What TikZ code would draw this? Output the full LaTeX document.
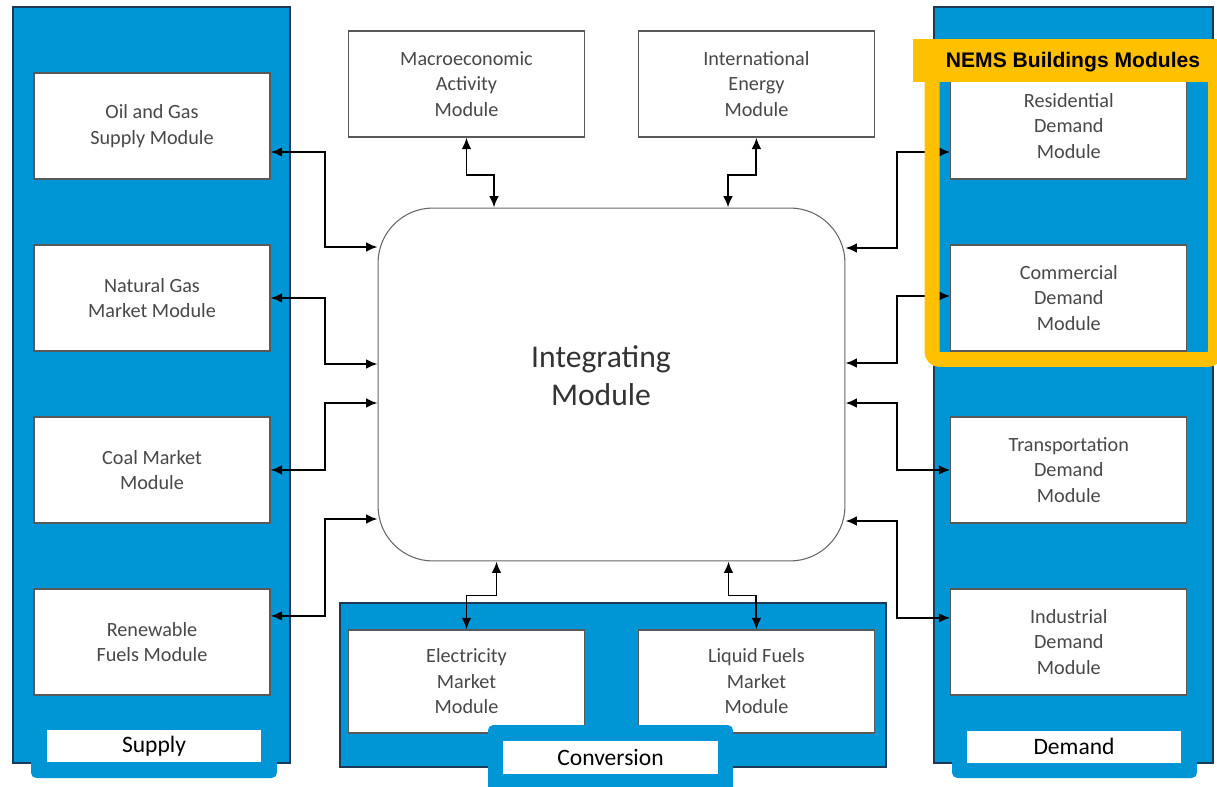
\documentclass[tikz,border=0pt]{standalone}
\usepackage{fontspec}
\setmainfont{Carlito}
\newfontfamily\nemsfont{Liberation Sans}
\usetikzlibrary{positioning,calc,arrows.meta}
\definecolor{panelblue}{RGB}{0,150,214}
\definecolor{paneledge}{RGB}{28,58,87}
\definecolor{nemsyellow}{RGB}{255,192,0}
\definecolor{boxtext}{RGB}{72,72,72}

\begin{document}
\begin{tikzpicture}[x=0.02cm,y=-0.02cm,on grid,
	module/.style={draw=black!65,line width=0.7pt,fill=white,minimum width=4.72cm,minimum height=2.12cm,inner sep=0pt,align=center,text=boxtext,font=\fontsize{11.5}{14.5}\selectfont},
	integ/.style={draw=black!60,line width=0.6pt,fill=white,rounded corners=1.1cm,minimum width=9.34cm,minimum height=7.06cm},
	panel/.style={fill=panelblue,draw=paneledge,line width=1.5pt},
	tab/.style={fill=panelblue,rounded corners=3pt},
	tag/.style={fill=white,inner sep=0pt,minimum width=4.28cm,minimum height=0.64cm,font=\fontsize{13.4}{16}\selectfont},
	link/.style={<->,>={Latex[length=6.5pt,width=5.5pt]},line width=1.1pt}]
	\useasboundingbox (0,0) rectangle (1217,787);
	\draw[panel] (13,7) rectangle (290,763);
	\draw[panel] (934,7) rectangle (1213,763);
	\draw[panel] (340,603) rectangle (886,767);

	\node[module] (oil) at (152,126) {Oil and Gas\\Supply Module};
	\node[module] (gas) [below=3.44cm of oil] {Natural Gas\\Market Module};
	\node[module] (coal) [below=3.44cm of gas] {Coal Market\\Module};
	\node[module] (ren) [below=3.44cm of coal] {Renewable\\Fuels Module};
	\node[module] (res) [right=18.34cm of oil] {Residential\\Demand\\Module};
	\node[module] (com) [below=3.44cm of res] {Commercial\\Demand\\Module};
	\node[module] (trans) [below=3.44cm of com] {Transportation\\Demand\\Module};
	\node[module] (ind) [below=3.44cm of trans] {Industrial\\Demand\\Module};
	\node[module] (macro) at (466.5,84) {Macroeconomic\\Activity\\Module};
	\node[module] (intl) [right=5.8cm of macro] {International\\Energy\\Module};
	\node[module,minimum height=2.06cm] (elec) at (466.5,681.5) {Electricity\\Market\\Module};
	\node[module,minimum height=2.06cm] (liq) [right=5.8cm of elec] {Liquid Fuels\\Market\\Module};
	\node[integ] (core) at (611.5,384.5) {};
	\node[align=center,text=black!80,font=\fontsize{18}{21.5}\selectfont] (coretext) at (601,376) {Integrating\\Module};

	\fill[tab] (31,715) rectangle (277,778);
	\node[tag] (supply) at (154,746) {Supply};
	\fill[tab] (488,725) rectangle (733,800);
	\node[tag,minimum width=4.3cm,minimum height=0.66cm] (conv) at (610.5,757.5) {Conversion};
	\fill[tab] (952,715) rectangle (1197,778);
	\node[tag] (demand) at (1074,746.5) {Demand};

	\draw[link] ($(oil.east)+(0,26)$) -- ++(54,0) |- ($(core.west)+(0,-137.5)$);
	\draw[link] (gas.east) -- ++(54,0) |- ($(core.west)+(0,-20.5)$);
	\draw[link] (coal.east) -- ++(54,0) |- ($(core.west)+(0,18.5)$);
	\draw[link] ($(ren.east)+(0,-26)$) -- ++(54,0) |- ($(core.west)+(0,134.5)$);
	\draw[link] ($(res.west)+(0,26)$) -- ++(-53,0) |- ($(core.east)+(0,-136.5)$);
	\draw[link] ($(com.west)+(0,-2)$) -- ++(-53,0) |- ($(core.east)+(0,-21.5)$);
	\draw[link] (trans.west) -- ++(-53,0) |- ($(core.east)+(0,18.5)$);
	\draw[link] ($(ind.west)+(0,-24)$) -- ++(-53,0) |- ($(core.east)+(0,136.5)$);
	\draw[link] (macro.south) -- ++(0,37) -| ($(core.north)+(-117.5,0)$);
	\draw[link] (intl.south) -- ++(0,37) -| ($(core.north)+(116.5,0)$);
	\draw[link] ($(core.south)+(-115,0)$) -- ++(0,34) -| (elec.north);
	\draw[link] ($(core.south)+(117,0)$) -- ++(0,34) -| (liq.north);

	\draw[nemsyellow,line width=0.3cm,rounded corners=0.16cm] (932,60) -- (932,359.5) -- (1215.5,359.5) -- (1215.5,60);
	\fill[nemsyellow] (913,39) rectangle (1217,82);
	\node[font=\nemsfont\bfseries\fontsize{12}{14}\selectfont] (nems) at (1073,62) {NEMS Buildings Modules};
\end{tikzpicture}
\end{document}
